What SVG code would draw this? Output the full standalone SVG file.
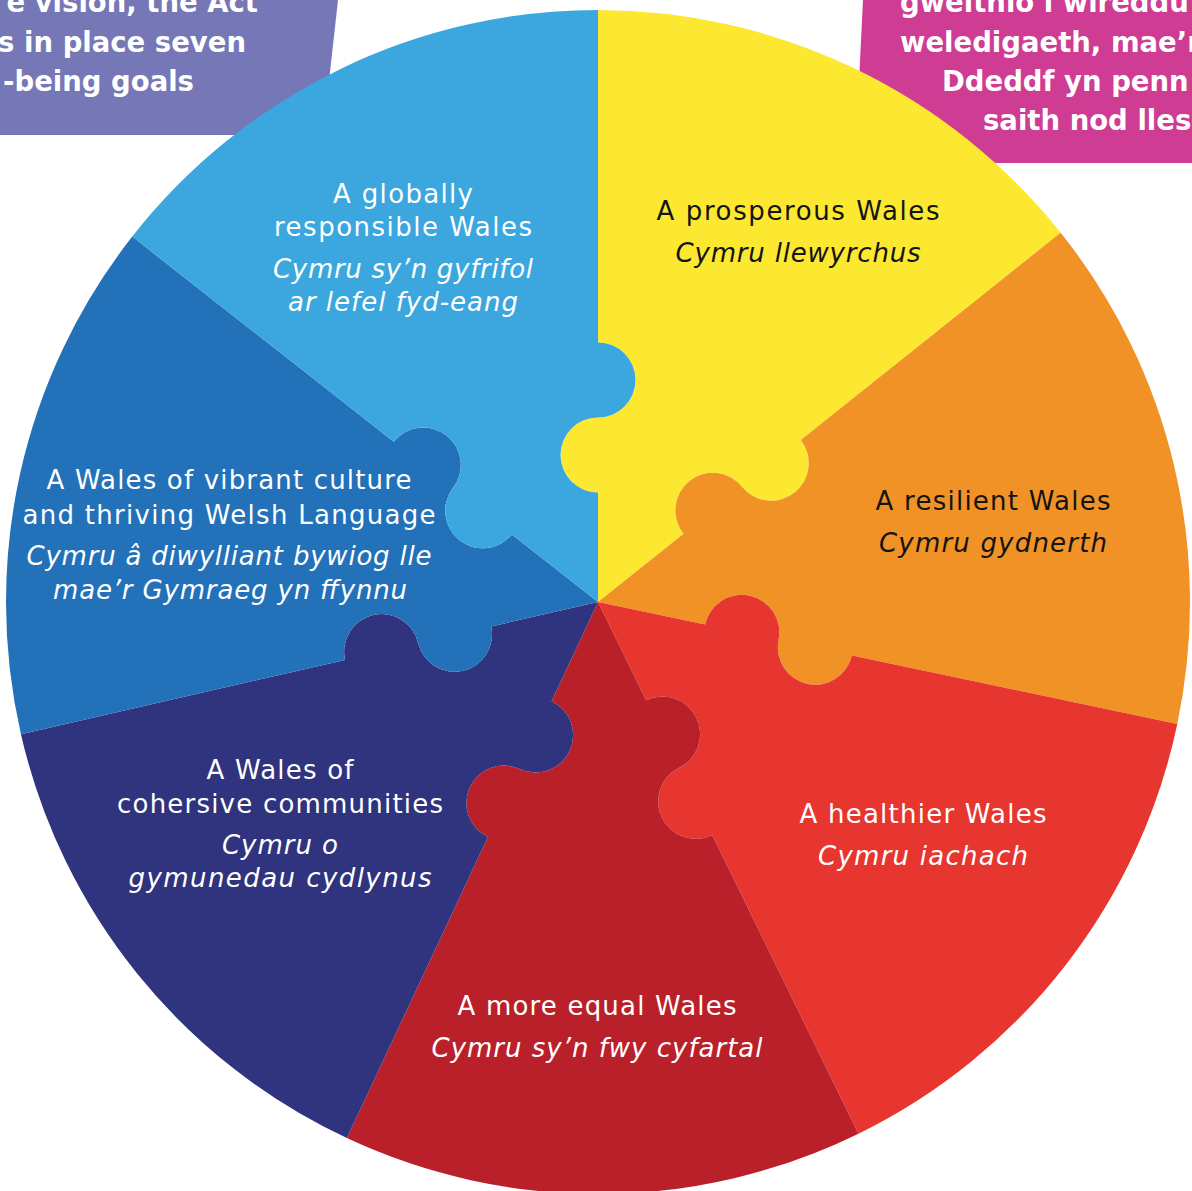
<svg xmlns="http://www.w3.org/2000/svg" width="1192" height="1191" viewBox="0 0 1192 1191">
  <style>
    .lbl { font-family: "DejaVu Sans", "Liberation Sans", sans-serif; font-size: 26px; text-anchor: middle; }
    .it { font-style: italic; }
    .ink { fill: #141414; }
    .paper { fill: #ffffff; }
    .callout { font-family: "DejaVu Sans", "Liberation Sans", sans-serif; font-size: 27.5px; font-weight: bold; fill: #ffffff; }
    .yellow { fill: #fde831; }
    .orange { fill: #f09226; }
    .red { fill: #e7352f; }
    .crimson { fill: #ba2029; }
    .navy { fill: #30337d; }
    .royal { fill: #2371b8; }
    .sky { fill: #3ba7de; }
  </style>

  <rect width="1192" height="1191" fill="#ffffff"/>

  <!-- intro panels behind the wheel -->
  <g id="intro-en">
    <polygon points="0,0 338,0 323,135 0,135" fill="#7577b7"/>
    <text class="callout" x="258" y="12" text-anchor="end">e vision, the Act</text>
    <text class="callout" x="246" y="52" text-anchor="end">s in place seven</text>
    <text class="callout" x="194" y="91" text-anchor="end">-being goals</text>
  </g>
  <g id="intro-cy">
    <polygon points="863,0 1192,0 1192,163 855,163" fill="#cf3c94"/>
    <text class="callout" x="900" y="12">gweithio i wireddu</text>
    <text class="callout" x="900" y="52">weledigaeth, mae’r</text>
    <text class="callout" x="942" y="91">Ddeddf yn penn</text>
    <text class="callout" x="983" y="130">saith nod lles</text>
  </g>

  <!-- the seven goals as interlocking wheel pieces -->
  <g id="goal-prosperous">
    <path class="yellow" d="M598 602 L598 492.5 A37.5 37.5 0 0 1 598 417.5 A37.5 37.5 0 0 0 598 342.5 L598 10 A592 592 0 0 1 1060.66 232.66 L800.8 440.1 A37.5 37.5 0 0 1 742.19 486.89 A37.5 37.5 0 0 0 683.58 533.69 Z"/>
    <text class="lbl ink" x="798" y="220" textLength="283">A prosperous Wales</text>
    <text class="lbl ink it" x="798" y="262" textLength="245">Cymru llewyrchus</text>
  </g>

  <g id="goal-resilient">
    <path class="orange" d="M598 602 L683.58 533.69 A37.5 37.5 0 0 1 742.19 486.89 A37.5 37.5 0 0 0 800.8 440.1 L1060.66 232.66 A592 592 0 0 1 1177.28 724.07 L851.92 655.51 A37.5 37.5 0 0 1 778.54 640.04 A37.5 37.5 0 0 0 705.15 624.58 Z"/>
    <text class="lbl ink" x="993" y="510" textLength="235">A resilient Wales</text>
    <text class="lbl ink it" x="993" y="552" textLength="228">Cymru gydnerth</text>
  </g>

  <g id="goal-healthier">
    <path class="red" d="M598 602 L705.15 624.58 A37.5 37.5 0 0 1 778.54 640.04 A37.5 37.5 0 0 0 851.92 655.51 L1177.28 724.07 A592 592 0 0 1 858.48 1133.63 L712.18 835.04 A37.5 37.5 0 0 1 679.18 767.69 A37.5 37.5 0 0 0 646.18 700.33 Z"/>
    <text class="lbl paper" x="923" y="823" textLength="247">A healthier Wales</text>
    <text class="lbl paper it" x="923" y="865" textLength="210">Cymru iachach</text>
  </g>

  <g id="goal-equal">
    <path class="crimson" d="M598 602 L646.18 700.33 A37.5 37.5 0 0 1 679.18 767.69 A37.5 37.5 0 0 0 712.18 835.04 L858.48 1133.63 A592 592 0 0 1 346.87 1138.1 L487.92 837 A37.5 37.5 0 0 1 519.74 769.08 A37.5 37.5 0 0 0 551.55 701.16 Z"/>
    <text class="lbl paper" x="597" y="1015" textLength="279">A more equal Wales</text>
    <text class="lbl paper it" x="597" y="1057" textLength="331">Cymru sy’n fwy cyfartal</text>
  </g>

  <g id="goal-cohesive">
    <path class="navy" d="M598 602 L551.55 701.16 A37.5 37.5 0 0 1 519.74 769.08 A37.5 37.5 0 0 0 487.92 837 L346.87 1138.1 A592 592 0 0 1 20.94 734.16 L345.05 659.93 A37.5 37.5 0 0 1 418.16 643.19 A37.5 37.5 0 0 0 491.26 626.45 Z"/>
    <text class="lbl paper" x="280" y="779" textLength="147">A Wales of</text>
    <text class="lbl paper" x="280" y="813" textLength="326">cohersive communities</text>
    <text class="lbl paper it" x="280" y="854" textLength="116">Cymru o</text>
    <text class="lbl paper it" x="280" y="887" textLength="303">gymunedau cydlynus</text>
  </g>

  <g id="goal-culture">
    <path class="royal" d="M598 602 L491.26 626.45 A37.5 37.5 0 0 1 418.16 643.19 A37.5 37.5 0 0 0 345.05 659.93 L20.94 734.16 A592 592 0 0 1 132.25 236.58 L393.84 441.82 A37.5 37.5 0 0 1 452.85 488.12 A37.5 37.5 0 0 0 511.85 534.41 Z"/>
    <text class="lbl paper" x="229" y="489" textLength="365">A Wales of vibrant culture</text>
    <text class="lbl paper" x="229" y="524" textLength="413">and thriving Welsh Language</text>
    <text class="lbl paper it" x="229" y="565" textLength="405">Cymru â diwylliant bywiog lle</text>
    <text class="lbl paper it" x="230" y="599" textLength="354">mae’r Gymraeg yn ffynnu</text>
  </g>

  <g id="goal-global">
    <path class="sky" d="M598 602 L511.85 534.41 A37.5 37.5 0 0 1 452.85 488.12 A37.5 37.5 0 0 0 393.84 441.82 L132.25 236.58 A592 592 0 0 1 598 10 L598 342.5 A37.5 37.5 0 0 1 598 417.5 A37.5 37.5 0 0 0 598 492.5 Z"/>
    <text class="lbl paper" x="403" y="203" textLength="140">A globally</text>
    <text class="lbl paper" x="403" y="236" textLength="258">responsible Wales</text>
    <text class="lbl paper it" x="403" y="278" textLength="260">Cymru sy’n gyfrifol</text>
    <text class="lbl paper it" x="403" y="311" textLength="230">ar lefel fyd-eang</text>
  </g>
</svg>
